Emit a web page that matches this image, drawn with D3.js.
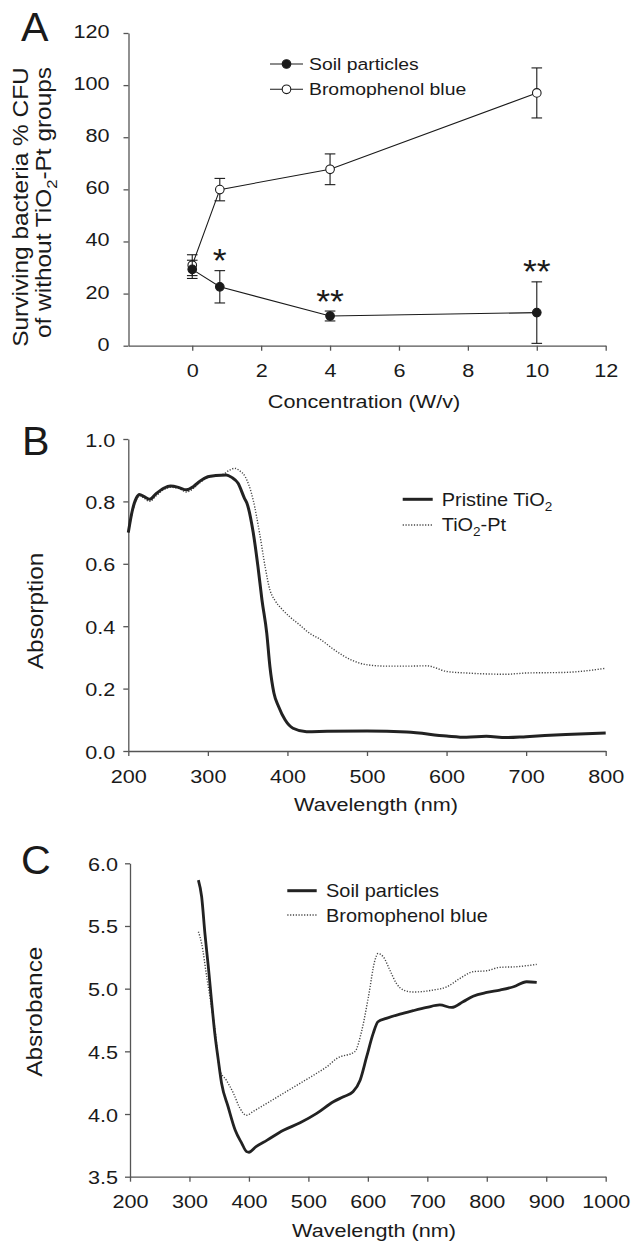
<!DOCTYPE html>
<html>
<head>
<meta charset="utf-8">
<script src="https://cdn.jsdelivr.net/npm/d3@7"></script>
<style>
body { margin: 0; background: #fff; }
svg text { font-family: "Liberation Sans", Arial, sans-serif; fill: #1a1a1a; }
</style>
</head>
<body>
<svg id="fig" width="638" height="1243"></svg>
<script>
// ---- panel A: surviving bacteria vs concentration
var concX = [0, 0.8, 4, 10];
var soilSurv = [29.3, 22.6, 11.4, 12.7];
var soilErr = [3.5, 6.2, 1.9, 11.8];
var bromoSurv = [30.9, 59.9, 67.7, 97.0];
var bromoErr = [4.0, 4.3, 5.9, 9.6];
var sigMarks = ['', '*', '**', '**'];
var concTicks = [0, 2, 4, 6, 8, 10, 12];
var survTicks = [0, 20, 40, 60, 80, 100, 120];

// ---- panel B: absorption spectra
var pristineWl = [200, 205, 210, 214, 220, 227, 235, 245, 253, 263, 273, 282, 290, 300, 310, 323, 330, 338, 346, 349, 357, 363, 368, 374, 378, 383, 389, 397, 407, 424, 450, 500, 550, 600, 625, 650, 675, 700, 750, 800];
var pristineAbs = [0.70, 0.77, 0.81, 0.822, 0.815, 0.807, 0.825, 0.843, 0.849, 0.845, 0.837, 0.848, 0.865, 0.879, 0.883, 0.885, 0.877, 0.858, 0.81, 0.795, 0.70, 0.59, 0.484, 0.378, 0.27, 0.186, 0.142, 0.10, 0.073, 0.062, 0.063, 0.064, 0.061, 0.048, 0.044, 0.047, 0.043, 0.046, 0.053, 0.058];
var ptWl = [200, 205, 210, 214, 220, 227, 235, 245, 253, 263, 273, 282, 290, 300, 310, 320, 327, 334, 340, 347, 357, 365, 372, 378, 384, 393, 403, 415, 428, 440, 459, 480, 501, 525, 550, 575, 600, 625, 650, 675, 700, 750, 800];
var ptAbs = [0.70, 0.765, 0.805, 0.818, 0.81, 0.80, 0.818, 0.838, 0.845, 0.842, 0.83, 0.842, 0.86, 0.877, 0.882, 0.888, 0.90, 0.906, 0.898, 0.879, 0.804, 0.698, 0.59, 0.516, 0.484, 0.455, 0.43, 0.405, 0.377, 0.36, 0.324, 0.292, 0.276, 0.272, 0.272, 0.273, 0.255, 0.25, 0.247, 0.246, 0.25, 0.252, 0.265];
var wlTicksB = [200, 300, 400, 500, 600, 700, 800];
var absTicksB = [0, 0.2, 0.4, 0.6, 0.8, 1.0];

// ---- panel C: absorbance spectra
var soilWl = [315, 320.5, 326, 331.7, 337, 342.6, 348.5, 354, 365, 377, 388, 396, 400, 412, 430, 458, 486, 514, 542, 559, 575, 587, 598, 609, 617, 631, 654, 676, 699, 721, 741, 760, 777, 800, 822, 845, 867, 884];
var soilAbs = [5.866, 5.733, 5.44, 5.175, 4.909, 4.643, 4.43, 4.245, 4.058, 3.87, 3.766, 3.70, 3.695, 3.74, 3.79, 3.87, 3.93, 4.005, 4.098, 4.138, 4.178, 4.27, 4.457, 4.643, 4.736, 4.763, 4.797, 4.824, 4.85, 4.87, 4.85, 4.895, 4.94, 4.97, 4.989, 5.015, 5.055, 5.05];
var bromoWl = [315, 320.5, 329, 337, 343, 351, 362, 374, 385, 396, 407, 430, 458, 486, 514, 531, 548, 578, 590, 601, 612, 617, 626, 637, 648, 660, 676, 710, 733, 755, 777, 800, 822, 850, 884];
var bromoAbs = [5.454, 5.36, 5.095, 4.856, 4.67, 4.35, 4.27, 4.165, 4.045, 3.99, 4.02, 4.085, 4.165, 4.245, 4.325, 4.377, 4.444, 4.497, 4.67, 4.936, 5.228, 5.28, 5.254, 5.148, 5.042, 4.989, 4.973, 4.989, 5.015, 5.082, 5.135, 5.143, 5.17, 5.175, 5.194];
var wlTicksC = [200, 300, 400, 500, 600, 700, 800, 900, 1000];
var absTicksC = [3.5, 4.0, 4.5, 5.0, 5.5, 6.0];

var svg = d3.select('#fig');
var ink = '#1a1a1a', axisCol = '#555';

// text with a horizontal stretch; parts may hold {sub: '2'}
function addText(parent, x, y, parts, o) {
    o = o || {};
    var size = o.size || 18.5, k = o.k || 1.17;
    var t = parent.append('text')
        .attr('transform', 'translate(' + x + ',' + y + ')' + (o.rotate ? ' rotate(' + o.rotate + ')' : '') + ' scale(' + k + ',1)')
        .attr('text-anchor', o.anchor || 'start')
        .style('font-size', size + 'px');
    if (o.weight) t.style('font-weight', o.weight);
    if (typeof parts === 'string') parts = [parts];
    var shift = 0;
    parts.forEach(function(p) {
        if (typeof p === 'string') {
            var s = t.append('tspan').text(p);
            if (shift) { s.attr('dy', -shift); shift = 0; }
        } else {
            shift = size * 0.3;
            t.append('tspan').attr('dy', shift).style('font-size', (size * 0.68) + 'px').text(p.sub);
        }
    });
    return t;
}

function drawAxes(x, y, xTicks, yTicks, xFmt, yFmt, yPad, yOff) {
    var g = svg.append('g');
    var xa = g.append('g').attr('transform', 'translate(0,' + y.range()[0] + ')')
        .call(d3.axisBottom(x).tickValues(xTicks).tickSize(5).tickSizeOuter(0).tickFormat(xFmt));
    var ya = g.append('g').attr('transform', 'translate(' + x.range()[0] + ',0)')
        .call(d3.axisLeft(y).tickValues(yTicks).tickSize(5).tickSizeOuter(0).tickFormat(yFmt));
    [xa, ya].forEach(function(a) {
        a.attr('font-size', null).attr('font-family', null);
        a.select('.domain').attr('stroke', axisCol).attr('stroke-width', 1.3);
        a.selectAll('.tick line').attr('stroke', axisCol).attr('stroke-width', 1.3);
    });
    xa.selectAll('.tick text')
        .attr('x', null).attr('y', null).attr('dy', null)
        .attr('text-anchor', 'middle')
        .attr('transform', 'translate(0,31.5) scale(1.17,1)')
        .style('font-size', '18.5px');
    ya.selectAll('.tick text')
        .attr('x', null).attr('y', null).attr('dy', null)
        .attr('text-anchor', 'end')
        .attr('transform', 'translate(' + (-yPad) + ',' + yOff + ') scale(1.17,1)')
        .style('font-size', '18.5px');
    return g;
}

function zip(a, b) { return a.map(function(v, i) { return [v, b[i]]; }); }

// =================== Panel A
var xA = d3.scaleLinear().domain([-1.85, 12]).range([128.5, 605.7]);
var yA = d3.scaleLinear().domain([0, 120]).range([345.7, 33]);
drawAxes(xA, yA, concTicks, survTicks, d3.format('d'), d3.format('d'), 19, 4.5);

var gA = svg.append('g');
var lineA = d3.line().x(function(d) { return xA(d[0]); }).y(function(d) { return yA(d[1]); });

[{v: bromoSurv, e: bromoErr, fill: '#fff'}, {v: soilSurv, e: soilErr, fill: ink}].forEach(function(s) {
    var pts = zip(concX, s.v);
    gA.append('path').datum(pts).attr('d', lineA).attr('fill', 'none').attr('stroke', ink).attr('stroke-width', 1.1);
    var eb = gA.selectAll(null).data(pts.map(function(p, i) { return {x: p[0], y: p[1], e: s.e[i]}; })).enter().append('g')
        .attr('stroke', ink).attr('stroke-width', 1.1);
    eb.append('line')
        .attr('x1', function(d) { return xA(d.x); }).attr('x2', function(d) { return xA(d.x); })
        .attr('y1', function(d) { return yA(d.y - d.e); }).attr('y2', function(d) { return yA(d.y + d.e); });
    [1, -1].forEach(function(sg) {
        eb.append('line')
            .attr('x1', function(d) { return xA(d.x) - 5.3; }).attr('x2', function(d) { return xA(d.x) + 5.3; })
            .attr('y1', function(d) { return yA(d.y + sg * d.e); }).attr('y2', function(d) { return yA(d.y + sg * d.e); });
    });
    gA.selectAll(null).data(pts).enter().append('circle')
        .attr('cx', function(d) { return xA(d[0]); }).attr('cy', function(d) { return yA(d[1]); })
        .attr('r', 4.3).attr('fill', s.fill).attr('stroke', ink).attr('stroke-width', 1.1);
});

concX.forEach(function(c, i) {
    if (!sigMarks[i]) return;
    addText(gA, xA(c), yA(soilSurv[i] + soilErr[i]) + 1.5, sigMarks[i], {size: 34, k: 1.05, anchor: 'middle'});
});

// legend A
var legA = svg.append('g');
[{y: 64, fill: ink, name: 'Soil particles'}, {y: 89.3, fill: '#fff', name: 'Bromophenol blue'}].forEach(function(r) {
    legA.append('line').attr('x1', 270).attr('x2', 303).attr('y1', r.y).attr('y2', r.y).attr('stroke', ink).attr('stroke-width', 1.1);
    legA.append('circle').attr('cx', 286.5).attr('cy', r.y).attr('r', 4.3).attr('fill', r.fill).attr('stroke', ink).attr('stroke-width', 1.1);
    addText(legA, 309, r.y + 5.6, r.name, {size: 17, k: 1.14});
});

addText(svg, 364, 408, 'Concentration (W/v)', {anchor: 'middle'});
addText(svg, 28.3, 207, 'Surviving bacteria % CFU', {size: 22, k: 1.11, rotate: -90, anchor: 'middle'});
addText(svg, 50.5, 202.5, ['of without TiO', {sub: '2'}, '-Pt groups'], {size: 22, k: 1.11, rotate: -90, anchor: 'middle'});
addText(svg, 21, 40.7, 'A', {size: 40, k: 1.03});

// =================== Panel B
var xB = d3.scaleLinear().domain([200, 800]).range([128.3, 605.7]);
var yB = d3.scaleLinear().domain([0, 1]).range([751, 439]);
drawAxes(xB, yB, wlTicksB, absTicksB, d3.format('d'), d3.format('.1f'), 13, 7);

var lineB = d3.line().curve(d3.curveMonotoneX).x(function(d) { return xB(d[0]); }).y(function(d) { return yB(d[1]); });
svg.append('path').datum(zip(ptWl, ptAbs)).attr('d', lineB).attr('fill', 'none')
    .attr('stroke', '#444').attr('stroke-width', 1.4).attr('stroke-dasharray', '1.2,1.6');
svg.append('path').datum(zip(pristineWl, pristineAbs)).attr('d', lineB).attr('fill', 'none')
    .attr('stroke', '#222').attr('stroke-width', 3);

var legB = svg.append('g');
legB.append('line').attr('x1', 402.7).attr('x2', 432.7).attr('y1', 499.3).attr('y2', 499.3).attr('stroke', '#222').attr('stroke-width', 3);
legB.append('line').attr('x1', 402.7).attr('x2', 432.7).attr('y1', 525).attr('y2', 525).attr('stroke', '#444').attr('stroke-width', 1.4).attr('stroke-dasharray', '1.2,1.6');
addText(legB, 441.7, 506, ['Pristine TiO', {sub: '2'}], {size: 17.5, k: 1.14});
addText(legB, 441.7, 531, ['TiO', {sub: '2'}, '-Pt'], {size: 17.5, k: 1.14});

addText(svg, 376, 811, 'Wavelength (nm)', {anchor: 'middle'});
addText(svg, 43, 611, 'Absorption', {size: 22, k: 1.11, rotate: -90, anchor: 'middle'});
addText(svg, 22, 455, 'B', {size: 40, k: 1.03});

// =================== Panel C
var xC = d3.scaleLinear().domain([200, 1000]).range([130, 605.7]);
var yC = d3.scaleLinear().domain([3.5, 6]).range([1176.7, 863.3]);
drawAxes(xC, yC, wlTicksC, absTicksC, d3.format('d'), d3.format('.1f'), 12, 7);

var lineC = d3.line().curve(d3.curveMonotoneX).x(function(d) { return xC(d[0]); }).y(function(d) { return yC(d[1]); });
svg.append('path').datum(zip(bromoWl, bromoAbs)).attr('d', lineC).attr('fill', 'none')
    .attr('stroke', '#444').attr('stroke-width', 1.4).attr('stroke-dasharray', '1.2,1.6');
svg.append('path').datum(zip(soilWl, soilAbs)).attr('d', lineC).attr('fill', 'none')
    .attr('stroke', '#222').attr('stroke-width', 2.8);

var legC = svg.append('g');
legC.append('line').attr('x1', 287.3).attr('x2', 316.7).attr('y1', 890.7).attr('y2', 890.7).attr('stroke', '#222').attr('stroke-width', 3);
legC.append('line').attr('x1', 287.3).attr('x2', 316.7).attr('y1', 915).attr('y2', 915).attr('stroke', '#444').attr('stroke-width', 1.4).attr('stroke-dasharray', '1.2,1.6');
addText(legC, 326, 896.7, 'Soil particles', {size: 17.5, k: 1.14});
addText(legC, 326, 921.7, 'Bromophenol blue', {size: 17.5, k: 1.14});

addText(svg, 374, 1237, 'Wavelength (nm)', {anchor: 'middle'});
addText(svg, 41.7, 1011.7, 'Absrobance', {size: 22, k: 1.11, rotate: -90, anchor: 'middle'});
addText(svg, 21, 874, 'C', {size: 40, k: 1.03});
</script>
</body>
</html>
